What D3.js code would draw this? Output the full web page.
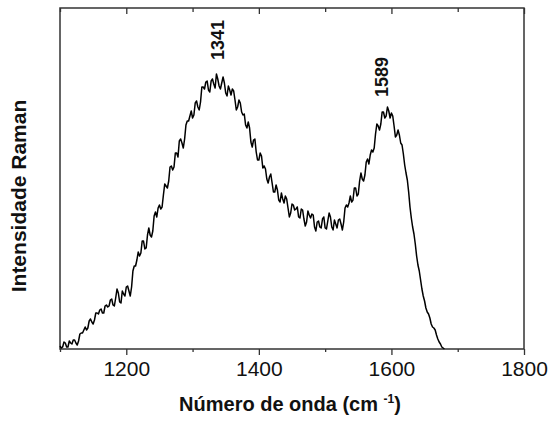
<!DOCTYPE html>
<meta charset="utf-8">
<style>
    html, body {
        margin: 0;
        padding: 0;
        background: #fff;
    }
    svg {
        display: block;
        font-family: "Liberation Sans", Arial, sans-serif;
    }
</style>
<div id="chart"></div>
<script src="https://d3js.org/d3.v7.js"></script>
<script>
    // spectrum sampled every 2 cm-1 from 1100 to 1680 (arbitrary intensity units)
    let wavenumbers = d3.range(1100, 1681, 2);
    let intensity = [
        3, 1, 2, 7, 6, 2, 2, 8, 6, 5,
        9, 9, 6, 4, 8, 15, 16, 16, 19, 22,
        19, 21, 28, 30, 27, 25, 29, 36, 36, 35,
        39, 40, 36, 36, 43, 44, 42, 43, 49, 50,
        44, 43, 51, 60, 56, 47, 46, 58, 55, 53,
        62, 63, 58, 53, 62, 78, 83, 83, 89, 97,
        93, 96, 108, 108, 100, 101, 114, 121, 114, 112,
        118, 133, 137, 132, 141, 144, 140, 142, 154, 165,
        163, 161, 168, 182, 183, 179, 182, 196, 196, 192,
        208, 210, 206, 201, 210, 224, 228, 228, 233, 238,
        231, 234, 246, 248, 242, 239, 247, 262, 262, 260,
        267, 268, 259, 257, 268, 270, 265, 261, 275, 270,
        263, 260, 266, 272, 266, 256, 253, 263, 259, 254,
        260, 258, 249, 239, 242, 249, 246, 237, 234, 235,
        224, 221, 227, 221, 207, 202, 209, 210, 197, 189,
        189, 196, 193, 181, 183, 180, 170, 166, 172, 175,
        166, 157, 157, 164, 159, 149, 147, 156, 150, 146,
        153, 150, 141, 132, 136, 145, 144, 139, 140, 142,
        132, 131, 140, 139, 130, 123, 127, 138, 134, 131,
        135, 134, 122, 118, 127, 128, 122, 121, 130, 132,
        121, 120, 128, 136, 132, 122, 119, 129, 125, 121,
        129, 130, 125, 119, 127, 141, 144, 142, 146, 153,
        147, 149, 161, 161, 153, 155, 168, 176, 170, 168,
        174, 187, 190, 185, 194, 199, 197, 201, 215, 225,
        223, 219, 225, 237, 237, 231, 233, 242, 238, 231,
        236, 233, 223, 212, 214, 219, 214, 206, 204, 195,
        184, 176, 169, 157, 142, 131, 122, 115, 105, 93,
        84, 78, 69, 60, 53, 48, 41, 37, 35, 31,
        25, 22, 21, 19, 14, 10, 7, 5, 2, 1,
        0
    ];

    let peakLabels = [1341, 1589];
    let peakHeights = [309, 272];

    let majorTicks = [1200, 1400, 1600, 1800];
    let minorTicks = [1100, 1300, 1500, 1700];

    let data = wavenumbers.map((w, i) => ({w: w, v: intensity[i]}));

    let width = 550, height = 425;
    let margin = {top: 8, right: 26, bottom: 76, left: 60};

    let svg = d3.select("#chart").append("svg")
        .attr("width", width)
        .attr("height", height);

    let x = d3.scaleLinear()
        .domain([1100, 1800])
        .range([margin.left, width - margin.right]);

    let y = d3.scaleLinear()
        .domain([0, 341])
        .range([height - margin.bottom, margin.top]);

    let axisColor = "#333";

    // bottom axis, ticks pointing out
    let bottomAxis = svg.append("g")
        .attr("transform", `translate(0,${height - margin.bottom})`);
    bottomAxis.call(d3.axisBottom(x).tickValues(majorTicks).tickSize(6).tickPadding(6).tickFormat(d3.format("d")));
    bottomAxis.append("g").call(d3.axisBottom(x).tickValues(minorTicks).tickSize(3).tickFormat(""));
    bottomAxis.selectAll(".domain").remove();
    bottomAxis.selectAll("line").attr("stroke", axisColor).attr("stroke-width", 1.3);
    bottomAxis.selectAll("text")
        .attr("fill", "#111")
        .style("font-size", "21px");

    // top axis, mirrored ticks pointing in
    let topAxis = svg.append("g")
        .attr("transform", `translate(0,${margin.top})`);
    topAxis.call(d3.axisBottom(x).tickValues(majorTicks).tickSize(6).tickFormat(""));
    topAxis.append("g").call(d3.axisBottom(x).tickValues(minorTicks).tickSize(4).tickFormat(""));
    topAxis.selectAll(".domain").remove();
    topAxis.selectAll("line").attr("stroke", axisColor).attr("stroke-width", 1.3);

    // frame
    svg.append("rect")
        .attr("x", x(1100))
        .attr("y", y(341))
        .attr("width", x(1800) - x(1100))
        .attr("height", y(0) - y(341))
        .attr("fill", "none")
        .attr("stroke", axisColor)
        .attr("stroke-width", 1.5);

    let line = d3.line()
        .x(d => x(d.w))
        .y(d => y(d.v));

    svg.append("path")
        .datum(data)
        .attr("d", line)
        .attr("fill", "none")
        .attr("stroke", "#000")
        .attr("stroke-width", 1.5)
        .attr("stroke-linejoin", "round");

    // peak annotations
    svg.selectAll(".peak")
        .data(peakLabels)
        .join("text")
        .attr("class", "peak")
        .attr("transform", (d, i) => `translate(${x(d) + 4},${y(peakHeights[i])}) rotate(-90)`)
        .attr("text-anchor", "middle")
        .style("font-size", "18px")
        .style("font-weight", "bold")
        .attr("fill", "#111")
        .text(d => d);

    // axis titles
    let xTitle = svg.append("text")
        .attr("x", (x(1100) + x(1800)) / 2 - 2)
        .attr("y", 411)
        .attr("text-anchor", "middle")
        .style("font-size", "20px")
        .style("font-weight", "bold")
        .attr("fill", "#111");
    xTitle.append("tspan").text("Número de onda (cm ");
    xTitle.append("tspan").attr("dy", -8).style("font-size", "12px").text("-1");
    xTitle.append("tspan").attr("dy", 8).text(")");

    svg.append("text")
        .attr("transform", `translate(26,196) rotate(-90)`)
        .attr("text-anchor", "middle")
        .style("font-size", "21px")
        .style("font-weight", "bold")
        .attr("fill", "#111")
        .text("Intensidade Raman");
</script>
